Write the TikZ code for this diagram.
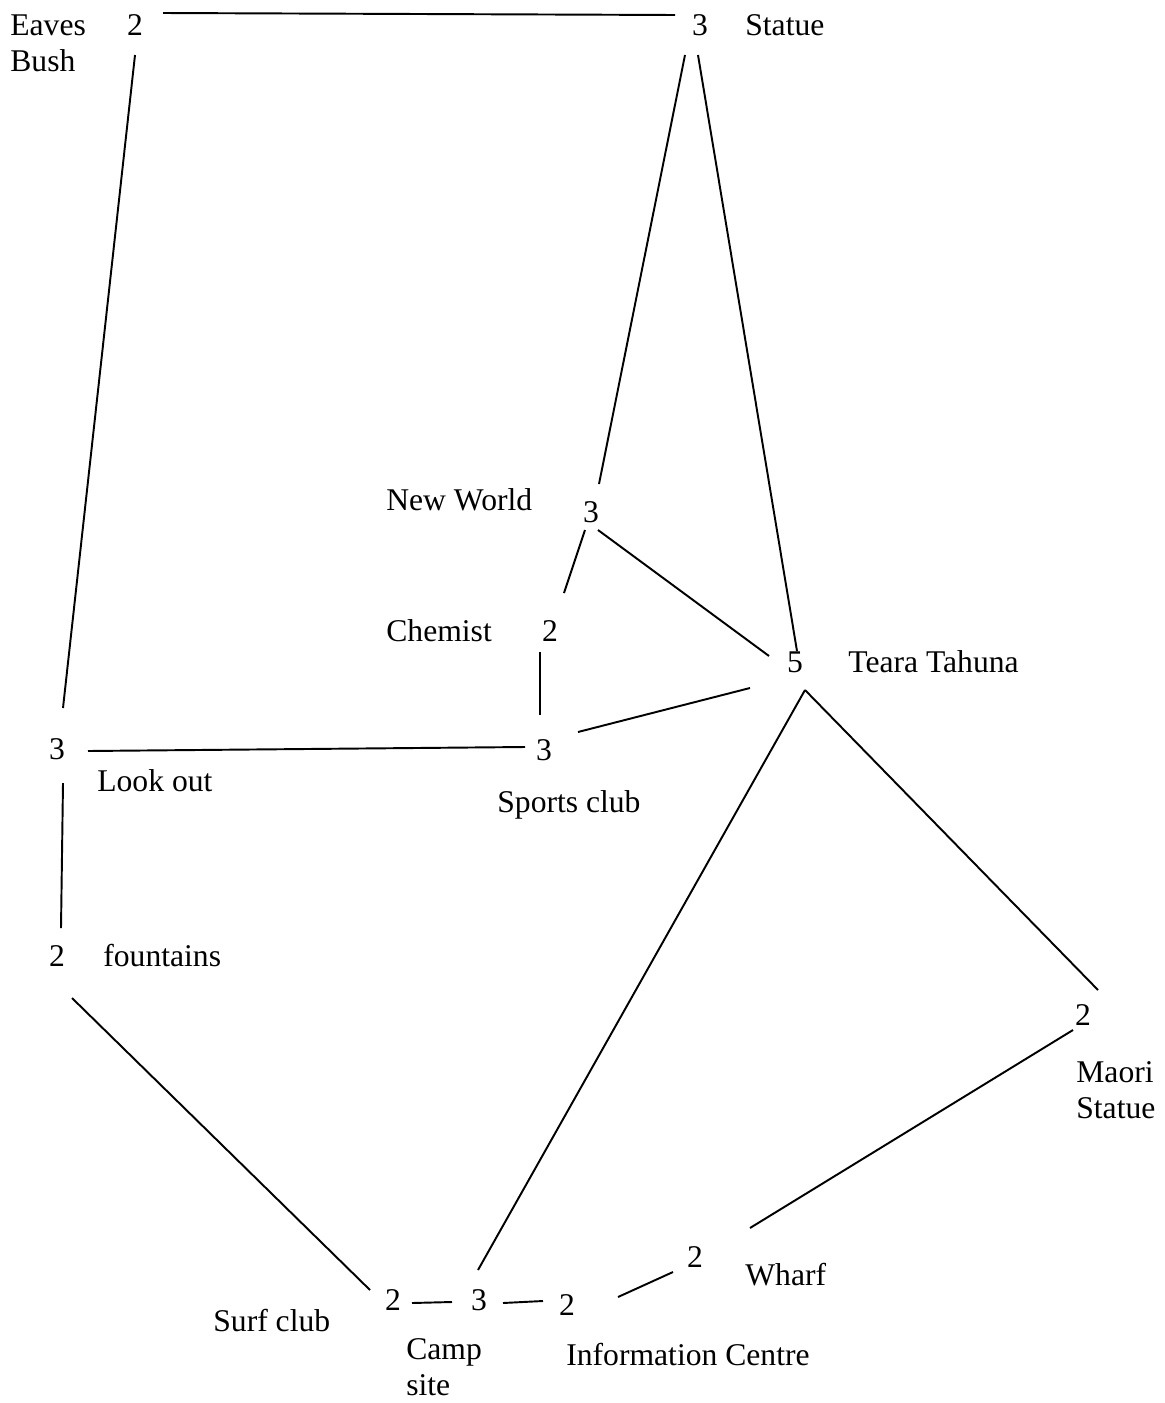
\documentclass[tikz,border=0pt]{standalone}
\usepackage{fontspec}
\setmainfont{Liberation Serif}
\begin{document}
\begin{tikzpicture}[x=0.02cm,y=-0.02cm,
  font=\fontsize{18}{20.4}\selectfont,
  num/.style={inner sep=0pt},
  lbl/.style={inner sep=0pt,anchor=base west,align=left},
  edge/.style={line width=1.1pt}]
\useasboundingbox[fill=white] (0,0) rectangle (1164,1403);

% vertices, labelled with their degree
\node[num] (E)  at (135,25)   {2};
\node[num] (S)  at (700,25)   {3};
\node[num] (NW) at (591,512)  {3};
\node[num] (C)  at (550,631)  {2};
\node[num] (T)  at (795,662)  {5};
\node[num] (L)  at (57,749)   {3};
\node[num] (SC) at (544,750)  {3};
\node[num] (F)  at (57,956)   {2};
\node[num] (M)  at (1083,1015){2};
\node[num] (W)  at (695,1257) {2};
\node[num] (SU) at (393,1300) {2};
\node[num] (CA) at (479,1300) {3};
\node[num] (I)  at (567,1305) {2};

% place names (two-line names sit on the baseline of their last line)
\node[lbl] (lE)  at (10,71)    {Eaves\\Bush};
\node[lbl] (lS)  at (745,35)   {Statue};
\node[lbl] (lNW) at (386,510)  {New World};
\node[lbl] (lC)  at (386,641)  {Chemist};
\node[lbl] (lT)  at (848,672)  {Teara Tahuna};
\node[lbl] (lL)  at (97,791)   {Look out};
\node[lbl] (lSC) at (497,812)  {Sports club};
\node[lbl] (lF)  at (103,966)  {fountains};
\node[lbl] (lM)  at (1076,1118){Maori\\Statue};
\node[lbl] (lW)  at (745,1285) {Wharf};
\node[lbl] (lSU) at (213,1331) {Surf club};
\node[lbl] (lCA) at (406,1395) {Camp\\site};
\node[lbl] (lI)  at (566,1365) {Information Centre};

% roads
\draw[edge] ([shift={(28,-12)}]E.center)  -- ([shift={(-25,-10)}]S.center);
\draw[edge] ([shift={(0,30)}]E.center)    -- ([shift={(6,-41)}]L.center);
\draw[edge] ([shift={(-15,30)}]S.center)  -- ([shift={(8,-28)}]NW.center);
\draw[edge] ([shift={(-2,30)}]S.center)   -- ([shift={(2,-11)}]T.center);
\draw[edge] ([shift={(-6,18)}]NW.center)  -- ([shift={(14,-38)}]C.center);
\draw[edge] ([shift={(7,18)}]NW.center)   -- ([shift={(-26,-6)}]T.center);
\draw[edge] ([shift={(-10,21)}]C.center)  -- ([shift={(-4,-35)}]SC.center);
\draw[edge] ([shift={(34,-18)}]SC.center) -- ([shift={(-45,26)}]T.center);
\draw[edge] ([shift={(31,2)}]L.center)    -- ([shift={(-19,-3)}]SC.center);
\draw[edge] ([shift={(6,34)}]L.center)    -- ([shift={(4,-28)}]F.center);
\draw[edge] ([shift={(15,42)}]F.center)   -- ([shift={(-23,-10)}]SU.center);
\draw[edge] ([shift={(10,28)}]T.center)   -- ([shift={(-1,-30)}]CA.center);
\draw[edge] ([shift={(10,28)}]T.center)   -- ([shift={(15,-25)}]M.center);
\draw[edge] ([shift={(-10,15)}]M.center)  -- ([shift={(55,-29)}]W.center);
\draw[edge] ([shift={(-22,15)}]W.center)  -- ([shift={(51,-8)}]I.center);
\draw[edge] ([shift={(19,3)}]SU.center)   -- ([shift={(-27,2)}]CA.center);
\draw[edge] ([shift={(24,3)}]CA.center)   -- ([shift={(-24,-4)}]I.center);
\end{tikzpicture}
\end{document}
